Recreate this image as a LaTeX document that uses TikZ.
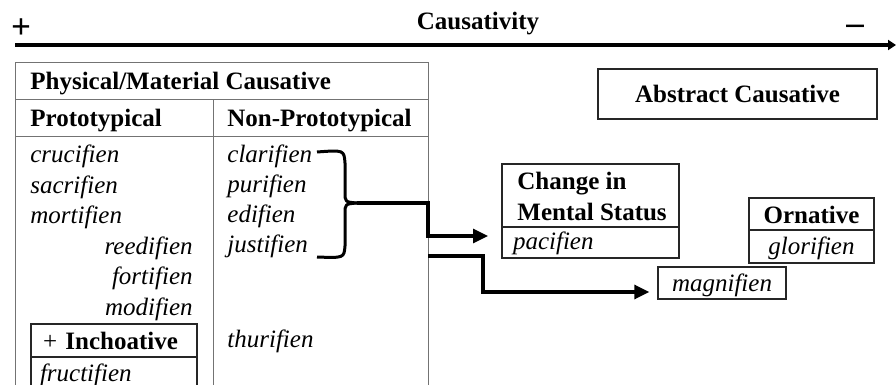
\documentclass[tikz,border=0pt]{standalone}
\usepackage{fontspec}
\setmainfont{Liberation Serif}[Scale=1.25]
\usetikzlibrary{arrows.meta}

\tikzset{
  hd/.style={font=\bfseries, anchor=base west, inner sep=0pt},
  wd/.style={font=\itshape, anchor=base west, inner sep=0pt},
  grid/.style={draw=black!55, line width=0.5pt},
  box/.style={draw=black!85, line width=0.7pt, inner ysep=0pt, text depth=0pt},
  conn/.style={line width=1.6pt, -{Triangle[length=7.5pt,width=7pt]}},
  brace/.style={line width=1.5pt, line join=round}
}

\begin{document}
\begin{tikzpicture}[x=0.5pt, y=-0.5pt]
    \useasboundingbox (0,0) rectangle (896,385);

    % causativity scale
    \node[font=\bfseries\fontsize{14}{16}\selectfont, inner sep=0pt] (plus) at (21,29) {+};
    \node[font=\bfseries\fontsize{14}{16}\selectfont, inner sep=0pt] (minus) at (855,30) {--};
    \node[hd, anchor=base] (scale) at (478,30) {Causativity};
    \coordinate (axl) at (15,45);
    \coordinate (axr) at (896,45);
    \draw[line width=1.6pt, -{Triangle[length=4pt,width=5pt]}] (axl) -- (axr);

    % physical/material table
    \draw[grid] (15,400) |- (428,63) -- (428,400);
    \draw[grid] (15,100) -- (428,100);
    \draw[grid] (15,137) -- (428,137);
    \draw[grid] (213,100) -- (213,400);

    \node[hd] (phys) at (30,90) {Physical/Material Causative};
    \node[hd] (proto) at (30,127) {Prototypical};
    \node[hd] (nonproto) at (227,127) {Non-Prototypical};

    \node[wd] (cruc) at (30,163) {crucifien};
    \node[wd] (sacr) at (30,193.5) {sacrifien};
    \node[wd] (mort) at (30,224) {mortifien};
    \node[wd, anchor=base east] (reed) at (193,254.5) {reedifien};
    \node[wd, anchor=base east] (fort) at (193,285) {fortifien};
    \node[wd, anchor=base east] (modi) at (193,315.5) {modifien};

    \node[wd] (clar) at (227,163) {clarifien};
    \node[wd] (puri) at (227,193) {purifien};
    \node[wd] (edif) at (227,223) {edifien};
    \node[wd] (just) at (227,253) {justifien};
    \node[wd] (thur) at (227,348) {thurifien};

    \node[box, minimum width=83pt, minimum height=16.5pt, text width=71pt, inner xsep=6pt, align=left, text height=9.5pt] (inch) at (114,340.5) {+ \textbf{Inchoative}};
    \node[box, minimum width=83pt, minimum height=21.5pt, text width=74pt, inner xsep=4.5pt, align=left, text height=3.5pt, font=\itshape] (fruc) at (114,378.5) {fructifien};

    % other causatives
    \node[box, line width=0.9pt, minimum width=139.5pt, minimum height=25pt, text height=9pt, font=\bfseries] (abstract) at (737.5,94) {Abstract Causative};

    \node[box, minimum width=88.5pt, minimum height=31.5pt] (mental) at (590.5,195.5) {};
    \node[hd] (mental1) at (517,190) {Change in};
    \node[hd] (mental2) at (517,221) {Mental Status};
    \node[box, minimum width=88.5pt, minimum height=15.5pt, text width=77.5pt, inner xsep=5.5pt, align=left, text height=7.5pt, font=\itshape] (pacif) at (590.5,242.5) {pacifien};

    \node[box, line width=0.9pt, minimum width=62.5pt, minimum height=16pt, text height=10pt, font=\bfseries] (orn) at (811.5,214) {Ornative};
    \node[box, line width=0.9pt, minimum width=62.5pt, minimum height=16.5pt, text height=8.5pt, font=\itshape] (glor) at (811.5,246.5) {glorifien};

    \node[box, minimum width=64pt, minimum height=16pt, text height=9pt, font=\itshape] (magn) at (722,283) {magnifien};

    % brace and arrows
    \coordinate (btop) at (317,152);
    \coordinate (btip) at (357,203);
    \coordinate (bbot) at (317,257);
    \draw[brace] (btop) .. controls (344,150) .. (345,163) -- (345,192) .. controls (345,202) .. (btip);
    \draw[brace] (btip) .. controls (345,204) .. (345,214) -- (345,246) .. controls (344,258) .. (bbot);

    \coordinate (b1) at (428,203);
    \coordinate (t1) at (488,236);
    \draw[conn] (btip) -- (b1) |- (t1);

    \coordinate (j2) at (428,256);
    \coordinate (b2) at (483,292);
    \draw[conn, shorten >=4pt] (j2) -| (b2) -- (b2 -| magn.west);
\end{tikzpicture}
\end{document}
